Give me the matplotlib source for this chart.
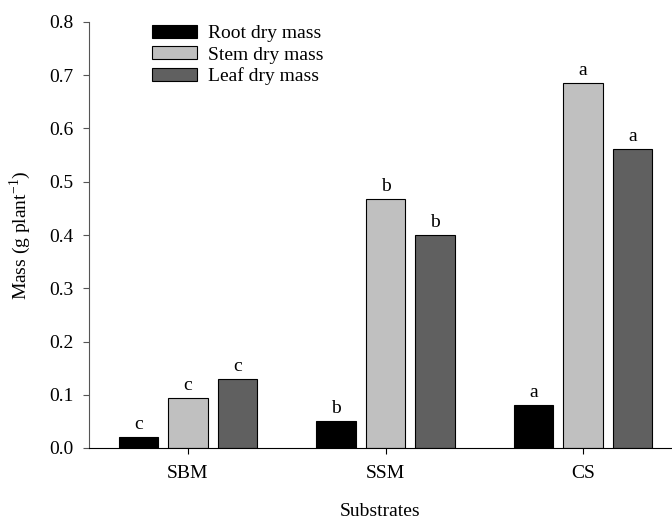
import matplotlib
matplotlib.use("Agg")
import matplotlib.pyplot as plt
import numpy as np

categories = ["SBM", "SSM", "CS"]
series_names = ["Root dry mass", "Stem dry mass", "Leaf dry mass"]
root = [0.021, 0.050, 0.081]
stem = [0.094, 0.468, 0.685]
leaf = [0.130, 0.400, 0.561]
root_letters = ["c", "b", "a"]
stem_letters = ["c", "b", "a"]
leaf_letters = ["c", "b", "a"]

plt.rcParams['font.family'] = ['Liberation Serif', 'DejaVu Serif']
plt.rcParams['mathtext.fontset'] = 'custom'
plt.rcParams['mathtext.rm'] = 'Liberation Serif'
plt.rcParams['font.size'] = 14

W, H = 672, 522
fig = plt.figure(figsize=(W/100, H/100), dpi=100)
ax = fig.add_axes([89/W, 1-448/H, (W-89)/W, (448-22)/H])

x = np.arange(len(categories))
width = 0.2
offs = [-0.25, 0.0, 0.25]
colors = ["#000000", "#c0c0c0", "#606060"]
data = [root, stem, leaf]
letters = [root_letters, stem_letters, leaf_letters]

for vals, off, col, name, lets in zip(data, offs, colors, series_names, letters):
    bars = ax.bar(x + off, vals, width, color=col, edgecolor="black", linewidth=0.8, label=name)
    for b, v, l in zip(bars, vals, lets):
        ax.annotate(l, (b.get_x() + b.get_width()/2, v), xytext=(0, 3),
                    textcoords="offset points", ha="center", va="bottom", fontsize=14)

ax.set_xlim(-0.501, 2.45)
ax.set_ylim(0, 0.8)
ticks = np.arange(0, 0.81, 0.1)
ax.set_yticks(ticks)
ax.set_yticklabels([f"{v:.1f}" for v in ticks])
ax.set_xticks(x)
ax.set_xticklabels(categories)
ax.spines['top'].set_visible(False)
ax.spines['right'].set_visible(False)
ax.spines['left'].set_color("#555555")
ax.tick_params(axis='y', direction='out', length=4, pad=7, color="#555555")
ax.tick_params(axis='x', direction='out', length=4, pad=8)

ax.set_ylabel("Mass (g plant$^{\\mathregular{-1}}$)", fontsize=14)
ax.yaxis.set_label_coords((20-89)/(W-89), 0.5)
ax.yaxis.label.set_va('center')
ax.set_xlabel("Substrates", fontsize=14)
ax.xaxis.set_label_coords(0.5 - (89 + (W-89)/2 - 380)/(W-89), (448-512)/426)
ax.xaxis.label.set_va('center')

leg = fig.legend(loc="upper left", bbox_to_anchor=(152/W, 1-25/H), frameon=False,
                 handlelength=2.3, handleheight=0.65, handletextpad=0.6,
                 labelspacing=0.2, borderpad=0, borderaxespad=0, fontsize=14)

fig.savefig("out.png", dpi=100)
